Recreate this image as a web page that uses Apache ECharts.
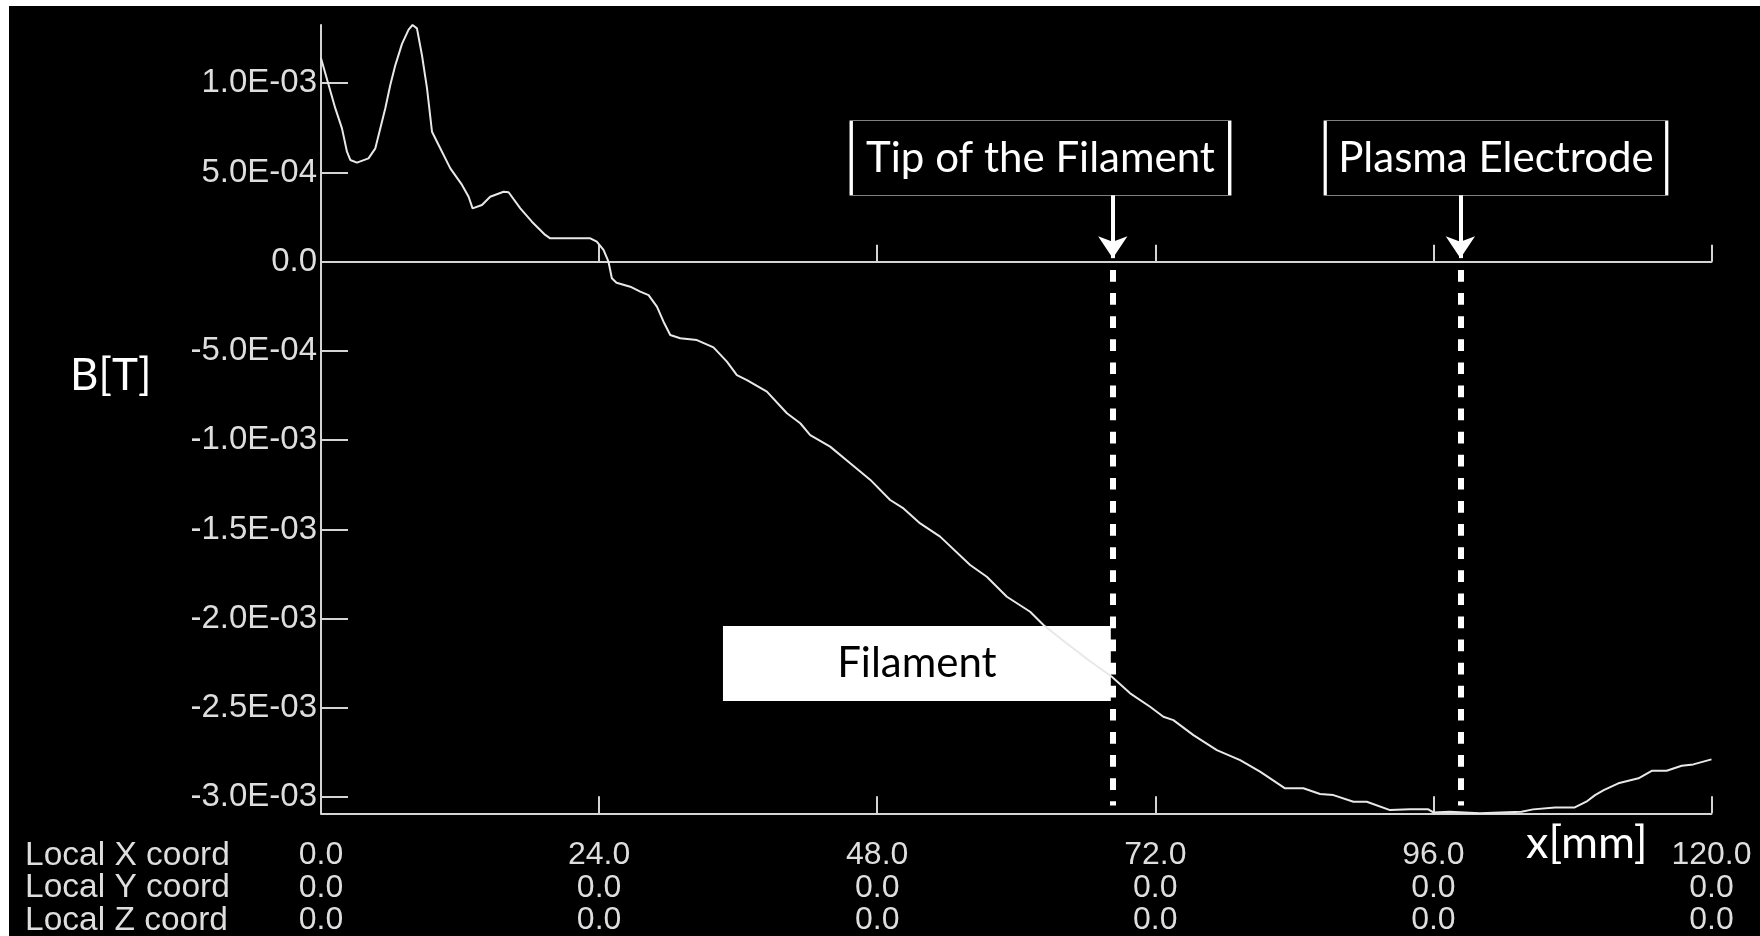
<!DOCTYPE html>
<html>
<head>
<meta charset="utf-8">
<script src="https://cdn.jsdelivr.net/npm/echarts@6/dist/echarts.min.js"></script>
<style>
html,body{margin:0;padding:0;background:#000;}
#chart{width:1760px;height:936px;}
</style>
</head>
<body>
<div id="chart"></div>
<script>
// ---- data (x in mm, B in T) ----
const xMM = [0,0.66,1.23,1.81,2.24,2.53,3.1,4.1,4.69,5.12,5.55,5.98,6.41,6.99,7.56,7.9,8.28,8.71,9.15,9.58,10.15,11.16,12.17,12.74,13.08,13.89,14.6,15.76,16.19,17.2,18.2,19.35,19.78,23.24,23.8,24.38,24.81,25.1,25.5,26.69,27.55,28.27,28.99,29.56,30.14,31.0,32.44,33.87,35.03,35.89,36.76,38.48,40.21,41.36,42.22,43.94,45.67,47.39,49.12,50.27,51.71,53.43,56.02,57.46,59.19,61.2,62.35,64.2,66.2,68.25,69.83,71.55,72.7,73.56,75.29,77.31,79.32,81.04,83.2,84.78,86.22,87.37,89.1,90.25,92.26,93.98,95.56,96.0,97.4,100.0,103.6,104.6,106.5,108.2,109.2,109.95,110.7,111.96,113.7,114.84,116.13,117.43,118.43,120];
const bT = [1.14e-3,0.99e-3,0.86e-3,0.747e-3,0.616e-3,0.57e-3,0.555e-3,0.579e-3,0.635e-3,0.747e-3,0.86e-3,0.99e-3,1.10e-3,1.22e-3,1.30e-3,1.326e-3,1.307e-3,1.158e-3,0.971e-3,0.728e-3,0.654e-3,0.523e-3,0.43e-3,0.364e-3,0.299e-3,0.318e-3,0.364e-3,0.392e-3,0.389e-3,0.299e-3,0.224e-3,0.15e-3,0.131e-3,0.131e-3,0.112e-3,0.066e-3,0.0,-0.093e-3,-0.118e-3,-0.14e-3,-0.168e-3,-0.187e-3,-0.252e-3,-0.336e-3,-0.411e-3,-0.429e-3,-0.439e-3,-0.48e-3,-0.56e-3,-0.635e-3,-0.663e-3,-0.728e-3,-0.849e-3,-0.905e-3,-0.971e-3,-1.036e-3,-1.129e-3,-1.221e-3,-1.335e-3,-1.382e-3,-1.466e-3,-1.54e-3,-1.699e-3,-1.765e-3,-1.877e-3,-1.961e-3,-2.035e-3,-2.13e-3,-2.23e-3,-2.325e-3,-2.418e-3,-2.493e-3,-2.549e-3,-2.568e-3,-2.652e-3,-2.736e-3,-2.792e-3,-2.857e-3,-2.95e-3,-2.95e-3,-2.982e-3,-2.988e-3,-3.025e-3,-3.025e-3,-3.072e-3,-3.068e-3,-3.068e-3,-3.085e-3,-3.081e-3,-3.09e-3,-3.081e-3,-3.068e-3,-3.057e-3,-3.057e-3,-3.025e-3,-2.988e-3,-2.96e-3,-2.922e-3,-2.894e-3,-2.852e-3,-2.852e-3,-2.824e-3,-2.816e-3,-2.788e-3];

// axis ticks / labels
const xTickValues = [0,24,48,72,96,120];
const xTickLabels = ['0.0','24.0','48.0','72.0','96.0','120.0'];
const localYLabels = ['0.0','0.0','0.0','0.0','0.0','0.0'];
const localZLabels = ['0.0','0.0','0.0','0.0','0.0','0.0'];
const rowNames = ['Local X coord','Local Y coord','Local Z coord'];
const yTickValues = [-3.0e-3,-2.5e-3,-2.0e-3,-1.5e-3,-1.0e-3,-5.0e-4,0,5.0e-4,1.0e-3];
const yTickLabels = ['-3.0E-03','-2.5E-03','-2.0E-03','-1.5E-03','-1.0E-03','-5.0E-04','0.0','5.0E-04','1.0E-03'];
const yMin = -3.09e-3, yMax = 1.326e-3;

// annotations
const markerNames = ['Tip of the Filament','Plasma Electrode'];
const markerX = [68.33, 98.33];
const markerBoxX = [62.09, 101.40];
const markerBoxY = 0.581e-3;
const arrowTopY = 0.374e-3, arrowTipY = 0.02e-3;
const dashTopY = -0.0465e-3, dashBottomY = -3.046e-3;
const filamentLabel = 'Filament';
const filamentX = [34.69, 68.16];
const filamentY = [-2.041e-3, -2.461e-3];

const NUMFONT = '"Liberation Sans", Arial, sans-serif';
const TXTFONT = 'Lato, "Open Sans", sans-serif';
const LABELCOL = '#dedede';
const AXISCOL = '#d4d4d4';

const seriesData = xMM.map((x, i) => [x, bT[i]]);

const chart = echarts.init(document.getElementById('chart'), null, {renderer: 'canvas'});

function yFmt(v) {
  const i = yTickValues.findIndex(t => Math.abs(t - v) < 1e-9);
  return i >= 0 ? yTickLabels[i] : '';
}
function xFmt(v) {
  const i = xTickValues.findIndex(t => Math.abs(t - v) < 1e-9);
  if (i < 0) return '';
  return xTickLabels[i] + '\n' + localYLabels[i] + '\n' + localZLabels[i];
}

const option = {
  backgroundColor: '#000',
  animation: false,
  grid: {left: 321, right: 48.5, top: 25, bottom: 122.7, containLabel: false, outerBoundsMode: 'none'},
  xAxis: [
    {
      type: 'value', min: 0, max: 120, interval: 24, position: 'bottom',
      axisLine: {show: true, onZero: false, lineStyle: {color: AXISCOL, width: 2}},
      axisTick: {show: true, inside: true, length: 17, lineStyle: {color: AXISCOL, width: 2}},
      axisLabel: {show: true, formatter: xFmt, color: LABELCOL, fontFamily: NUMFONT, fontSize: 32,
                  lineHeight: 32.5, margin: 26, align: 'center', showMinLabel: true, showMaxLabel: true},
      splitLine: {show: false}
    },
    {
      type: 'value', min: 0, max: 120, interval: 24, position: 'bottom',
      axisLine: {show: true, onZero: true, lineStyle: {color: AXISCOL, width: 2}},
      axisTick: {show: true, inside: true, length: 17, lineStyle: {color: AXISCOL, width: 2}},
      axisLabel: {show: false},
      splitLine: {show: false}
    }
  ],
  yAxis: {
    type: 'value', min: yMin, max: yMax,
    axisLine: {show: true, onZero: false, lineStyle: {color: AXISCOL, width: 2}},
    axisTick: {show: true, inside: true, length: 27, customValues: yTickValues, lineStyle: {color: AXISCOL, width: 2}},
    axisLabel: {show: true, customValues: yTickValues, formatter: yFmt, color: LABELCOL,
                fontFamily: NUMFONT, fontSize: 33, margin: 4},
    splitLine: {show: false}
  },
  graphic: [
    {type: 'rect', left: 0, top: 0, shape: {width: 9, height: 936}, style: {fill: '#fff'}, z: 100},
    {type: 'rect', left: 0, top: 0, shape: {width: 1760, height: 6}, style: {fill: '#fff'}, z: 100},
    {type: 'text', x: 70, y: 376, style: {text: 'B[T]', fill: '#fff', font: '44px ' + TXTFONT, textVerticalAlign: 'middle'}, z: 100},
    {type: 'text', x: 1526, y: 843, style: {text: 'x[mm]', fill: '#fff', font: '45px ' + TXTFONT, textVerticalAlign: 'middle'}, z: 100},
    {type: 'text', x: 25, y: 839.5, style: {text: rowNames.join('\n'), fill: LABELCOL, font: '33.5px ' + NUMFONT, lineHeight: 32.5, textVerticalAlign: 'top'}, z: 100}
  ],
  series: [
    {
      type: 'line', xAxisIndex: 0, data: seriesData, showSymbol: false, symbol: 'none', z: 2,
      lineStyle: {color: '#e8e8e8', width: 2}, silent: true
    },
    {
      type: 'line', xAxisIndex: 0, data: [], z: 5, silent: true,
      markArea: {
        silent: true,
        itemStyle: {color: '#fff', opacity: 1},
        label: {show: true, position: 'inside', color: '#000', fontFamily: TXTFONT, fontSize: 42},
        data: [[{name: filamentLabel, xAxis: filamentX[0], yAxis: filamentY[0]}, {xAxis: filamentX[1], yAxis: filamentY[1]}]]
      }
    },
    {
      type: 'line', xAxisIndex: 0, data: [], z: 10, silent: true,
      markLine: {
        silent: true, symbol: ['none', 'none'],
        label: {show: false},
        data: markerX.flatMap(x => [
          [{coord: [x, dashTopY], lineStyle: {color: '#fff', width: 6, type: [11.7, 11.4]}}, {coord: [x, dashBottomY]}],
          [{coord: [x, arrowTopY], lineStyle: {color: '#fff', width: 4, type: 'solid'}, symbol: 'none'},
           {coord: [x, arrowTipY], symbol: 'arrow', symbolSize: 22}]
        ])
      },
      markPoint: {
        silent: true,
        data: markerNames.map((n, i) => ({
          name: n, coord: [markerBoxX[i], markerBoxY], symbol: 'rect',
          symbolSize: [i === 0 ? 378.5 : 341.5, 74.5],
          itemStyle: {color: '#000', borderColor: '#fff', borderWidth: 1.5},
          label: {show: true, position: 'inside', formatter: n, color: '#fff', fontFamily: TXTFONT, fontSize: 42}
        }))
      }
    }
  ]
};
chart.setOption(option);
</script>
</body>
</html>
